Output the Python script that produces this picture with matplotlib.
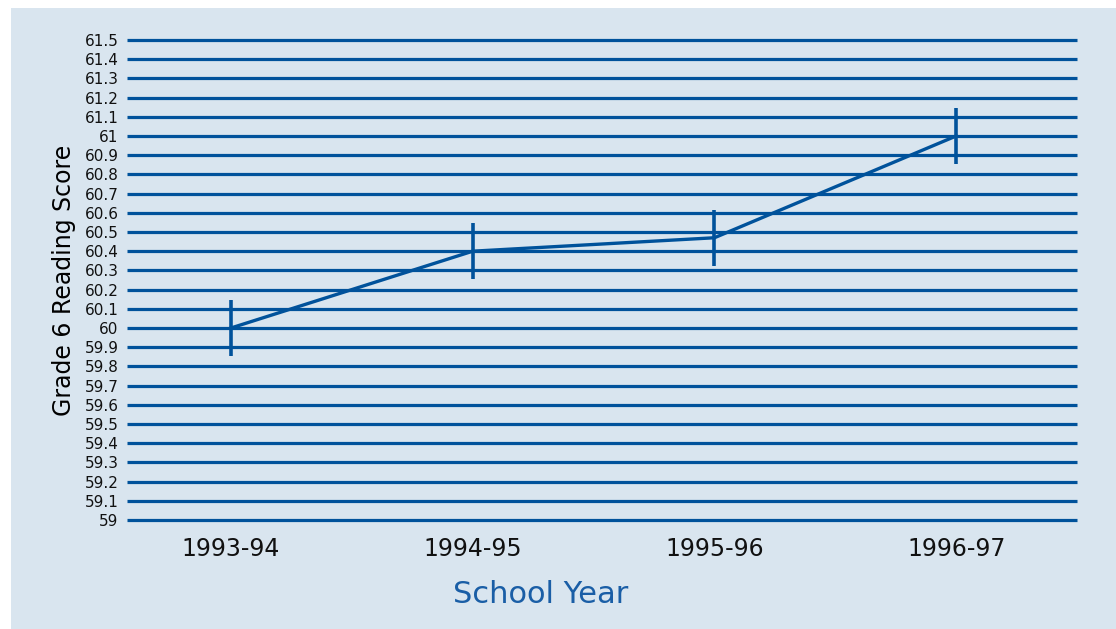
import numpy as np
import matplotlib
matplotlib.use('Agg')
from matplotlib import pyplot as plt
from matplotlib.patches import Rectangle

years = ['1993-94', '1994-95', '1995-96', '1996-97']
scores = [60.0, 60.4, 60.47, 61.0]
err = [0.145, 0.145, 0.145, 0.145]
yticks = np.round(np.arange(59.0, 61.51, 0.1), 1)

blue = '#00529b'
bg = '#d9e5ef'

fig = plt.figure(figsize=(11.16, 6.29), dpi=100)
fig.patch.set_facecolor('white')
# shaded panel behind everything
fig.patches.append(Rectangle((11/1116, 0), 1, 1 - 8/629, transform=fig.transFigure,
                             facecolor=bg, edgecolor='none', zorder=-5))

ax = fig.add_axes([127/1116, 1 - 520/629, 950/1116, 480/629])
ax.set_zorder(2)
ax.set_facecolor('none')
x = np.arange(len(years))

for v in yticks:
    ax.axhline(v, color=blue, lw=2.3, zorder=1, clip_on=False, solid_capstyle='butt')

ax.plot(x, scores, color=blue, lw=2.4, zorder=3)
ax.errorbar(x, scores, yerr=err, fmt='none', ecolor=blue, elinewidth=2.6, capsize=0, zorder=3)

ax.set_xlim(-0.43, 3.5)
ax.set_ylim(59.0, 61.5)
ax.set_yticks(yticks)
ax.set_yticklabels(['{:g}'.format(v) for v in yticks], fontsize=11, color='#111111')
ax.set_xticks(x)
ax.set_xticklabels(years, fontsize=17, color='#111111')
ax.tick_params(axis='y', length=0, pad=6)
ax.tick_params(axis='x', length=0, pad=12)
for s in ax.spines.values():
    s.set_visible(False)

ax.set_ylabel('Grade 6 Reading Score', fontsize=17, labelpad=6)
ax.set_xlabel('School Year', fontsize=22, color='#1a5ea6', labelpad=12)
ax.xaxis.set_label_coords(0.435, -0.125)

plt.savefig('out.png', dpi=100)
